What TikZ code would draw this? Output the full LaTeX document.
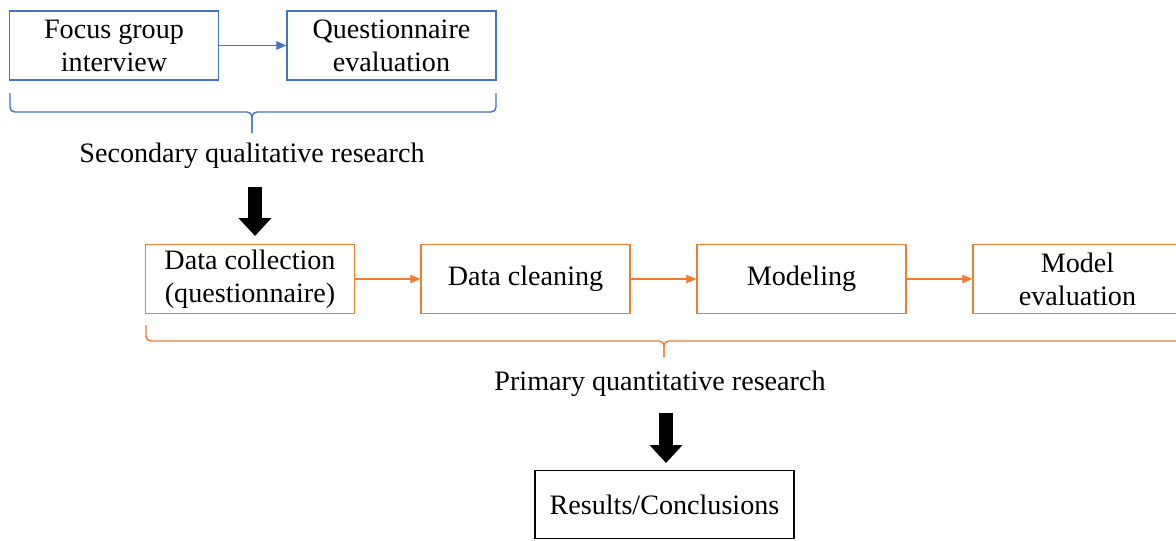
\documentclass[tikz,border=0pt]{standalone}
\usepackage{fontspec}
\setmainfont{Liberation Serif}
\usetikzlibrary{arrows.meta}
\definecolor{qualblue}{HTML}{4472C4}
\definecolor{quantorange}{HTML}{ED7D31}
\tikzset{
  box/.style      ={draw, line width=1pt, minimum width=5.225cm, minimum height=1.725cm,
                    inner sep=0pt, align=center, font=\fontsize{20}{23.5}\selectfont},
  qualbox/.style  ={box, draw=qualblue},
  quantbox/.style ={box, draw=quantorange},
  label/.style    ={font=\fontsize{20}{23.5}\selectfont},
  flow/.style     ={line width=1pt, -{Triangle[length=7pt,width=6pt]}},
  bigarrow/.style ={line width=0.33cm, -{Triangle[length=0.45cm,width=0.8cm]}},
  curly/.style    ={line width=1pt, rounded corners=0.12cm}
}

\begin{document}
\begin{tikzpicture}[x=0.025cm, y=-0.025cm]
  \useasboundingbox (0,0) rectangle (1176,540);
  \clip (0,0) rectangle (1176,540);
  % secondary qualitative research
  \node[qualbox ] (focus)   at ( 114, 45.5) {Focus group\\interview};
  \node[qualbox ] (quest)   at ( 391.5, 45.5) {Questionnaire\\evaluation};
  \draw[flow, qualblue] (focus) -- (quest);
  \coordinate (sectip) at (252,133);
  \draw[curly, qualblue] ( 10,93) |- (252,112) -- (sectip);
  \draw[curly, qualblue] (496,93) |- (252,112) -- (sectip);
  \node[label   ] (seclab)  at ( 252, 156) {Secondary qualitative research};
  \coordinate (sectop) at (255,187);
  \coordinate (secend) at (255,236);
  \draw[bigarrow] (sectop) -- (secend);
  % primary quantitative research
  \node[quantbox] (collect) at ( 250, 279) {Data collection\\(questionnaire)};
  \node[quantbox] (clean)   at ( 525.5, 279) {Data cleaning};
  \node[quantbox] (model)   at ( 801.5, 279) {Modeling};
  \node[quantbox] (meval)   at (1077.5, 279) {Model\\evaluation};
  \draw[flow, quantorange] (collect) -- (clean);
  \draw[flow, quantorange] (clean) -- (model);
  \draw[flow, quantorange] (model) -- (meval);
  \coordinate (primtip) at (664,357);
  \draw[curly, quantorange] ( 146,325) |- (664,341) -- (primtip);
  \draw[curly, quantorange] (1182,325) |- (664,341) -- (primtip);
  \node[label   ] (primlab) at ( 660, 384) {Primary quantitative research};
  \coordinate (primtop) at (666,413);
  \coordinate (primend) at (666,463);
  \draw[bigarrow] (primtop) -- (primend);
  % outcome
  \node[box, minimum width=6.475cm, minimum height=1.7cm] (result) at (664.5,504.5) {Results/Conclusions};
\end{tikzpicture}
\end{document}
